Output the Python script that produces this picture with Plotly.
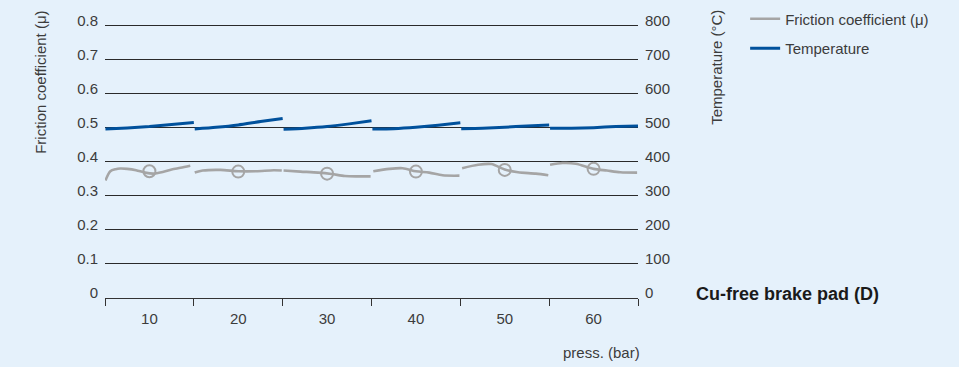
import plotly.graph_objects as go

# Pressure steps (bar) and their block boundaries
press_labels = [10, 20, 30, 40, 50, 60]
press_bounds = [5, 15, 25, 35, 45, 55, 65]

# Friction coefficient (mu) per pressure block
mu_x = [
    [5.05, 5.6, 6.2, 6.7, 7.5, 8.5, 9.5, 10.5, 11.5, 12.5, 13.5, 14.6],
    [15.1, 16, 18, 20, 22, 24, 24.9],
    [25.1, 27, 29, 30.5, 32, 33.5, 34.9],
    [35.2, 37, 38.5, 40, 41.5, 43, 44.9],
    [45.2, 47, 48.5, 50, 51.5, 53.5, 54.9],
    [55.1, 56.5, 58, 60, 61.5, 63, 64.9],
]
mu_y = [
    [0.345, 0.372, 0.378, 0.380, 0.379, 0.375, 0.368, 0.365, 0.370, 0.377, 0.382, 0.388],
    [0.368, 0.374, 0.376, 0.372, 0.372, 0.375, 0.374],
    [0.374, 0.371, 0.368, 0.364, 0.358, 0.357, 0.357],
    [0.372, 0.379, 0.381, 0.372, 0.368, 0.360, 0.359],
    [0.381, 0.391, 0.393, 0.377, 0.369, 0.365, 0.360],
    [0.391, 0.396, 0.394, 0.379, 0.374, 0.369, 0.368],
]
# Mean friction coefficient at each pressure step
mu_mean = [0.372, 0.371, 0.365, 0.371, 0.376, 0.379]

# Temperature (°C) per pressure block
temp_x = [
    [5.05, 7.5, 10, 12.5, 15],
    [15.1, 17.5, 20, 22.5, 25],
    [25.1, 27.5, 30, 32.5, 35],
    [35.1, 37.5, 40, 42.5, 45],
    [45.1, 47.5, 50, 52.5, 55],
    [55.1, 57.5, 60, 62.5, 65],
]
temp_y = [
    [496, 499, 503, 509, 515],
    [496, 501, 508, 518, 527],
    [495, 498, 503, 511, 520],
    [496, 497, 501, 507, 514],
    [497, 498, 501, 505, 508],
    [498, 498, 500, 503, 505],
]

left_ticks = [0, 0.1, 0.2, 0.3, 0.4, 0.5, 0.6, 0.7, 0.8]
left_text = ["0", "0.1", "0.2", "0.3", "0.4", "0.5", "0.6", "0.7", "0.8"]
right_ticks = [0, 100, 200, 300, 400, 500, 600, 700, 800]


def joined(blocks):
    out = []
    for i, b in enumerate(blocks):
        if i:
            out.append(None)
        out.extend(b)
    return out


FONT = "Liberation Sans, Arial, sans-serif"
BG = "#E5F1FB"
GREY = "#A5A5A5"
BLUE = "#00519C"
TXT = "#3C3C3C"

# Plot area: 0 at 298 px, 0.8 at 25 px; range padded so the 0.8 grid line is drawn
Y_TOP = 0.81
PLOT_H = 273 * Y_TOP / 0.8
TOP_M = 298 - PLOT_H

fig = go.Figure()
fig.add_trace(go.Scatter(
    x=joined(mu_x), y=joined(mu_y), mode="lines", name="Friction coefficient (μ)",
    line=dict(color=GREY, width=2.6, shape="spline", smoothing=0.8),
    connectgaps=False, legendgroup="a",
))
fig.add_trace(go.Scatter(
    x=press_labels, y=mu_mean, mode="markers", showlegend=False,
    marker=dict(symbol="circle-open", size=12, color=GREY, line=dict(width=2, color=GREY)),
))
fig.add_trace(go.Scatter(
    x=joined(temp_x), y=joined(temp_y), mode="lines", name="Temperature",
    line=dict(color=BLUE, width=3, shape="spline", smoothing=0.6),
    connectgaps=False, yaxis="y2", legendgroup="b",
))


def py(pix):
    """Paper y coordinate for a pixel row."""
    return (298 - pix) / PLOT_H


fig.update_layout(
    width=959, height=367,
    margin=dict(l=104.5, r=320.5, t=TOP_M, b=69, autoexpand=False),
    paper_bgcolor=BG, plot_bgcolor=BG,
    font=dict(family=FONT, size=15, color=TXT),
    xaxis=dict(
        range=[5, 65], tickmode="array", tickvals=press_labels,
        ticktext=[str(v) for v in press_labels], ticks="",
        showgrid=False, zeroline=False, showline=True, linecolor="#333", linewidth=1,
        ticklabelstandoff=7, automargin=False,
        minor=dict(tickmode="array", tickvals=press_bounds, ticks="outside",
                   ticklen=7, tickcolor="#333", tickwidth=1, showgrid=False),
    ),
    yaxis=dict(
        range=[0, Y_TOP], tickmode="array", tickvals=left_ticks, ticktext=left_text,
        ticks="", showgrid=True, gridcolor="#2a2a2a", gridwidth=1, zeroline=False,
        showline=False, ticklabelstandoff=6, ticklabelshift=-5, automargin=False,
    ),
    yaxis2=dict(
        range=[0, Y_TOP * 1000], overlaying="y", side="right", tickmode="array",
        tickvals=right_ticks, ticks="", showgrid=False, zeroline=False,
        showline=False, ticklabelstandoff=6, ticklabelshift=-5, automargin=False,
    ),
    showlegend=True,
    legend=dict(
        x=1.201, y=py(2), xanchor="left", yanchor="top", bgcolor="rgba(0,0,0,0)",
        font=dict(family=FONT, size=15, color=TXT), traceorder="grouped",
        tracegroupgap=7,
    ),
    annotations=[
        dict(text="Friction coefficient (μ)", textangle=-90, xref="paper", yref="paper",
             x=0, y=py(82), xshift=-64.5, showarrow=False, xanchor="center", yanchor="middle",
             font=dict(family=FONT, size=15, color=TXT)),
        dict(text="Temperature (°C)", textangle=-90, xref="paper", yref="paper",
             x=1, y=py(67), xshift=78.5, showarrow=False, xanchor="center", yanchor="middle",
             font=dict(family=FONT, size=15, color=TXT)),
        dict(text="press. (bar)", xref="paper", yref="paper", x=1, y=0, yshift=-54,
             xshift=4, xanchor="right", yanchor="middle", showarrow=False,
             font=dict(family=FONT, size=15, color=TXT)),
        dict(text="<b>Cu-free brake pad (D)</b>", xref="paper", yref="paper", x=1, y=0,
             xshift=55.5, yshift=4, xanchor="left", yanchor="middle", showarrow=False,
             font=dict(family=FONT, size=18, color="#1A1A1A")),
    ],
)

fig.write_html("out.html")
